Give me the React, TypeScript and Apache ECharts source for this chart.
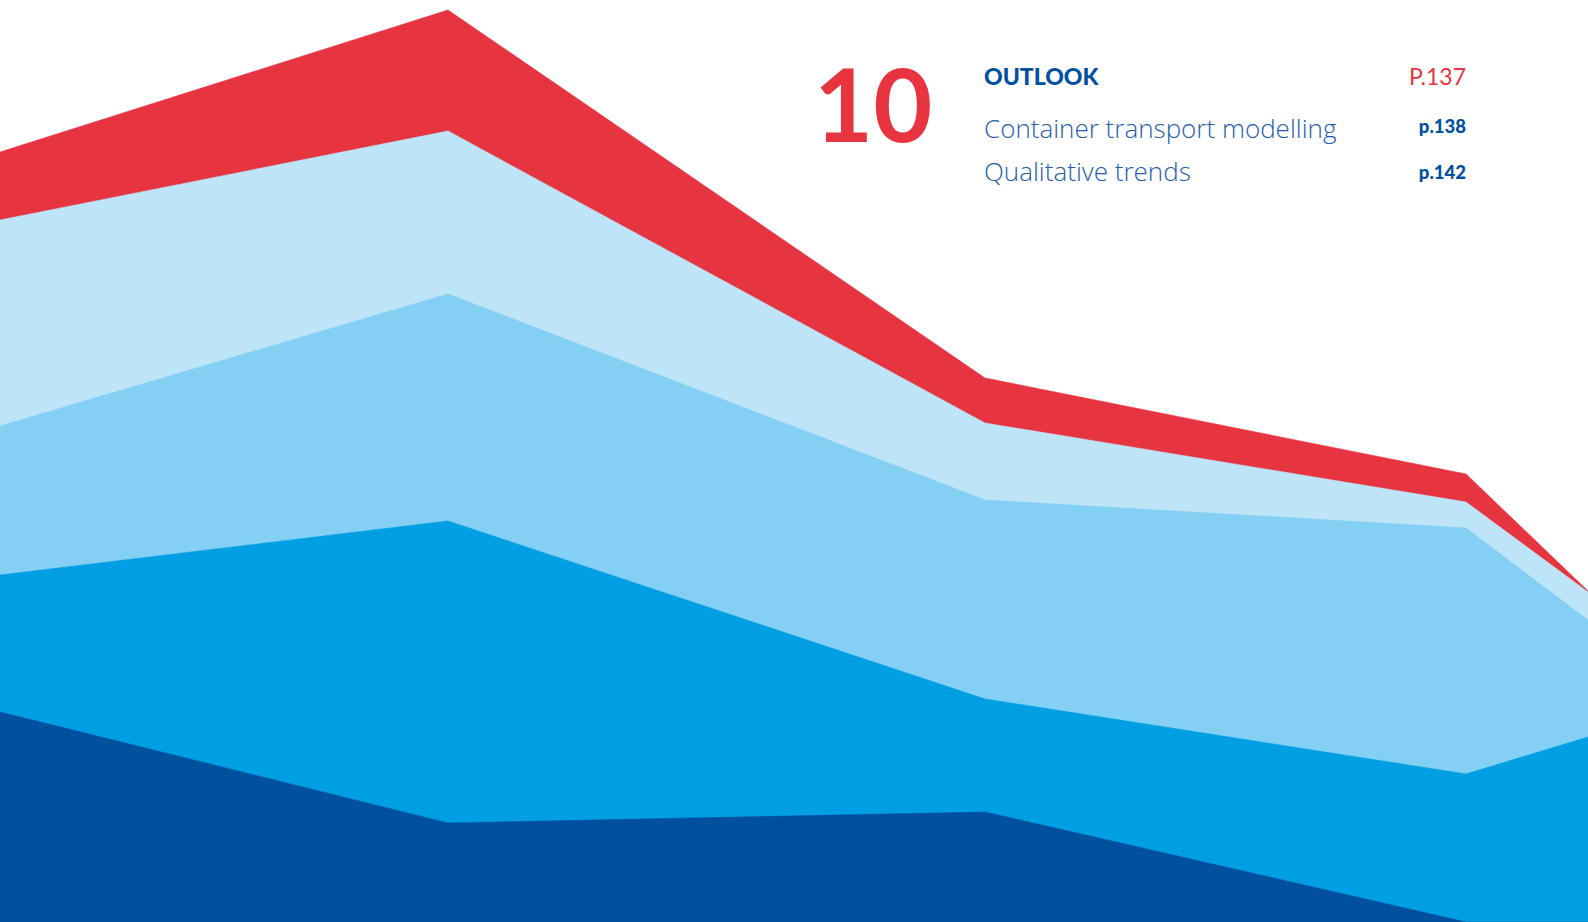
import React, { useEffect, useRef } from "react";
import * as echarts from "echarts";

// x positions of the data points (horizontal units)
const xPositions = [0, 448, 985, 1466, 1588];

// stacked layer values (bottom to top)
const darkBlueValues = [210, 99, 110, 0, 0];
const midBlueValues = [137, 302, 113, 148, 185];
const lightBlueValues = [149, 227, 199, 246, 117];
const paleBlueValues = [206, 163, 77, 26, 28];
const redValues = [68, 121, 45, 28, 1];

const layerNames = ["Layer 1", "Layer 2", "Layer 3", "Layer 4", "Layer 5"];
const layerColors = ["#0050A0", "#009FE3", "#84CFF4", "#BEE4F8", "#E73441"];
const layerValues = [darkBlueValues, midBlueValues, lightBlueValues, paleBlueValues, redValues];

// text block
const chapterNumber = "10";
const chapterTitle = "OUTLOOK";
const chapterPage = "P.137";
const sectionTitles = ["Container transport modelling", "Qualitative trends"];
const sectionPages = ["p.138", "p.142"];

export default function App() {
  const ref = useRef<HTMLDivElement>(null);

  useEffect(() => {
    if (!ref.current) return;
    const chart = echarts.init(ref.current, undefined, { renderer: "svg" });

    // cumulative tops of each layer (stacked manually)
    const cumulative: number[][] = [];
    layerValues.forEach((vals, i) => {
      cumulative.push(vals.map((v, j) => v + (i > 0 ? cumulative[i - 1][j] : 0)));
    });

    // paint from the top layer down so each lower layer covers the one above it
    const series = layerValues
      .map((_, i) => ({
        name: layerNames[i],
        type: "line",
        silent: true,
        symbol: "none",
        showSymbol: false,
        smooth: false,
        lineStyle: { width: 0.6, color: layerColors[i] },
        areaStyle: { color: layerColors[i], opacity: 1, origin: "start" },
        data: cumulative[i].map((v, j) => [xPositions[j], v]),
      }))
      .reverse();

    const textBlue = "#0050A0";
    const lightTextBlue = "#1F5EAD";
    const red = "#E8343F";

    const sectionY = [128.3, 170.9];
    const sectionPageY = [126.4, 172.4];

    chart.setOption({
      animation: false,
      grid: { left: 0, right: 0, top: 0, bottom: 0 },
      xAxis: { type: "value", min: 0, max: 1588, show: false },
      yAxis: { type: "value", min: 0, max: 922, show: false },
      series,
      graphic: [
        {
          type: "text",
          z: 100,
          x: 814,
          y: 102,
          style: {
            text: chapterNumber,
            fill: red,
            font: "bold 102px Lato",
            textAlign: "left",
            textVerticalAlign: "middle",
          },
        },
        {
          type: "text",
          z: 100,
          x: 984,
          y: 75.7,
          style: {
            text: chapterTitle,
            fill: textBlue,
            font: "900 23px Lato",
            textAlign: "left",
            textVerticalAlign: "middle",
          },
        },
        {
          type: "text",
          z: 100,
          x: 1466,
          y: 75.5,
          style: {
            text: chapterPage,
            fill: red,
            font: "normal 23px Lato",
            textAlign: "right",
            textVerticalAlign: "middle",
          },
        },
        ...sectionTitles.map((t, i) => ({
          type: "text",
          z: 100,
          x: 984,
          y: sectionY[i],
          style: {
            text: t,
            fill: lightTextBlue,
            font: "300 26px 'Open Sans'",
            textAlign: "left",
            textVerticalAlign: "middle",
          },
        })),
        ...sectionPages.map((t, i) => ({
          type: "text",
          z: 100,
          x: 1466,
          y: sectionPageY[i],
          style: {
            text: t,
            fill: textBlue,
            font: "900 18.5px Lato",
            textAlign: "right",
            textVerticalAlign: "middle",
          },
        })),
      ],
    });

    return () => chart.dispose();
  }, []);

  return (
    <div
      ref={ref}
      style={{ position: "fixed", left: 0, top: 0, width: 1588, height: 922, background: "#ffffff" }}
    />
  );
}
